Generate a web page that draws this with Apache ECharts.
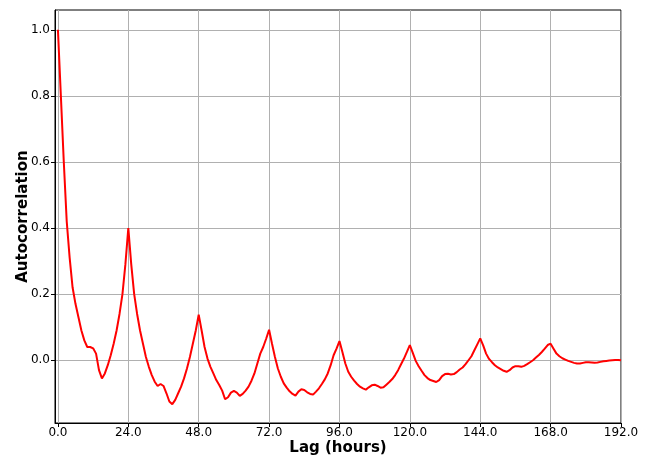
<!DOCTYPE html>
<html>
<head>
<meta charset="utf-8">
<script src="https://cdn.jsdelivr.net/npm/echarts@6/dist/echarts.min.js"></script>
<style>html,body{margin:0;padding:0;background:#fff}#c{width:654px;height:458px}</style>
</head>
<body>
<div id="c"></div>
<script>
// Autocorrelation at lags 0..192 hours
var lags = [];
for (var i = 0; i <= 192; i++) lags.push(i);
var acf = [
 1.00, 0.80, 0.60, 0.42, 0.31, 0.22, 0.17, 0.13, 0.09, 0.06,
 0.04, 0.04, 0.036, 0.02, -0.03, -0.055, -0.04, -0.015, 0.015, 0.05,
 0.09, 0.14, 0.20, 0.29, 0.40, 0.29, 0.20, 0.14, 0.09, 0.05,
 0.01, -0.02, -0.045, -0.065, -0.078, -0.072, -0.078, -0.10, -0.125, -0.133,
 -0.12, -0.10, -0.08, -0.055, -0.025, 0.01, 0.05, 0.09, 0.138, 0.09,
 0.04, 0.005, -0.02, -0.04, -0.06, -0.075, -0.092, -0.118, -0.112, -0.098,
 -0.093, -0.098, -0.108, -0.102, -0.092, -0.08, -0.062, -0.04, -0.01, 0.02,
 0.04, 0.065, 0.092, 0.05, 0.01, -0.025, -0.05, -0.07, -0.083, -0.094,
 -0.102, -0.107, -0.095, -0.088, -0.09, -0.097, -0.102, -0.104, -0.095, -0.085,
 -0.072, -0.058, -0.04, -0.015, 0.015, 0.035, 0.058, 0.025, -0.01, -0.035,
 -0.05, -0.062, -0.072, -0.08, -0.085, -0.089, -0.082, -0.076, -0.074, -0.078,
 -0.083, -0.082, -0.074, -0.066, -0.057, -0.045, -0.03, -0.012, 0.005, 0.025,
 0.046, 0.022, -0.002, -0.018, -0.032, -0.045, -0.054, -0.06, -0.063, -0.066,
 -0.06, -0.048, -0.042, -0.041, -0.043, -0.042, -0.036, -0.028, -0.022, -0.012,
 0.0, 0.012, 0.03, 0.048, 0.066, 0.045, 0.02, 0.004, -0.006, -0.015,
 -0.022, -0.027, -0.032, -0.035, -0.03, -0.022, -0.018, -0.018, -0.02, -0.017,
 -0.012, -0.006, 0.0, 0.008, 0.016, 0.025, 0.035, 0.046, 0.05, 0.035,
 0.02, 0.012, 0.006, 0.002, -0.002, -0.005, -0.008, -0.01, -0.01, -0.008,
 -0.006, -0.006, -0.007, -0.008, -0.007, -0.005, -0.003, -0.002, -0.001, 0.0,
 0.001, 0.001, 0.0
];
var xTicks = [0, 24, 48, 72, 96, 120, 144, 168, 192];
var yTicks = [0.0, 0.2, 0.4, 0.6, 0.8, 1.0];

var data = lags.map(function (l, i) { return [l, acf[i]]; });
var font = 'DejaVu Sans';
var chart = echarts.init(document.getElementById('c'), null, {renderer: 'canvas'});
chart.setOption({
  animation: false,
  backgroundColor: '#fff',
  grid: {left: 55, right: 33, top: 10, bottom: 35, outerBoundsMode: 'none', containLabel: false,
    show: true, borderColor: '#000', borderWidth: 1, backgroundColor: '#fff'},
  xAxis: {
    type: 'value', min: -1, max: 192,
    name: 'Lag (hours)', nameLocation: 'middle', nameGap: 18, nameMoveOverlap: false,
    nameTextStyle: {fontFamily: font, fontSize: 15, fontWeight: 'bold', color: '#000'},
    axisLine: {show: true, onZero: false, lineStyle: {color: '#000', width: 1}},
    axisTick: {show: true, inside: false, length: 4, lineStyle: {color: '#000'}, customValues: xTicks},
    axisLabel: {fontFamily: font, fontSize: 12, color: '#000', margin: 4, customValues: xTicks,
      formatter: function (v) { return v.toFixed(1); }},
    splitLine: {show: true, lineStyle: {color: '#b0b0b0', width: 1}}
  },
  yAxis: {
    type: 'value', min: -0.19, max: 1.06,
    name: 'Autocorrelation', nameLocation: 'middle', nameGap: 24, nameMoveOverlap: false,
    nameTextStyle: {fontFamily: font, fontSize: 15, fontWeight: 'bold', color: '#000'},
    axisLine: {show: true, onZero: false, lineStyle: {color: '#000', width: 1}},
    axisTick: {show: true, inside: false, length: 4, lineStyle: {color: '#000'}, customValues: yTicks},
    axisLabel: {fontFamily: font, fontSize: 12, color: '#000', margin: 5, customValues: yTicks,
      formatter: function (v) { return v.toFixed(1); }},
    splitLine: {show: true, lineStyle: {color: '#b0b0b0', width: 1}}
  },
  series: [{
    type: 'line', data: data, showSymbol: false, smooth: false,
    lineStyle: {color: '#ff0000', width: 2}, itemStyle: {color: '#ff0000'}
  }]
});
</script>
</body>
</html>
